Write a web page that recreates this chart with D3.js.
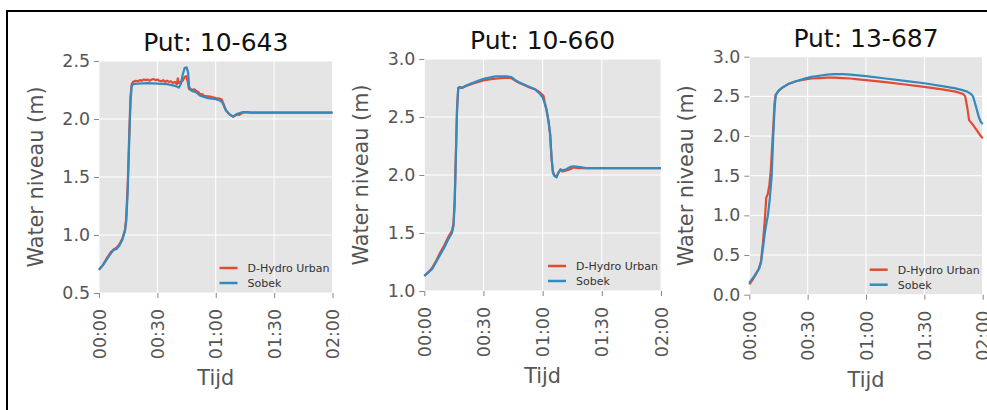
<!DOCTYPE html>
<html>
<head>
<meta charset="utf-8">
<script src="https://cdn.jsdelivr.net/npm/d3@7"></script>
<style>
  body { margin: 0; background: #fff; }
  svg { display: block; font-family: "DejaVu Sans", sans-serif; }
</style>
</head>
<body>
<svg id="chart" width="987" height="410"></svg>
<script>
// Tijd in minutes, water niveau in m
const titles = ["Put: 10-643", "Put: 10-660", "Put: 13-687"];
const seriesNames = ["D-Hydro Urban", "Sobek"];
const xTickValues = [0, 30, 60, 90, 120];
const xTickLabels = ["00:00", "00:30", "01:00", "01:30", "02:00"];
const yDomains = [[0.5, 2.5], [1.0, 3.0], [0.0, 3.0]];
const yTicks = [
  [0.5, 1.0, 1.5, 2.0, 2.5],
  [1.0, 1.5, 2.0, 2.5, 3.0],
  [0.0, 0.5, 1.0, 1.5, 2.0, 2.5, 3.0]
];

const hydro643 = [
  [0,0.70],[2,0.74],[4,0.80],[6,0.85],[7.5,0.875],[9,0.89],[10.5,0.92],[12,0.97],[13.3,1.04],[14,1.15],
  [14.8,1.45],[15.5,1.85],[16.2,2.20],[16.8,2.30],[17.5,2.32],[19,2.33],[20,2.325],[21,2.335],[22,2.33],
  [23,2.34],[24,2.335],[25,2.34],[26,2.33],[27,2.34],[28,2.345],[29,2.335],[30,2.34],[31,2.33],[32,2.325],
  [33,2.335],[34,2.32],[35,2.33],[36,2.32],[37,2.325],[38,2.31],[39,2.32],[40,2.30],[40.5,2.35],[41,2.31],
  [42,2.32],[43,2.33],[44,2.36],[44.8,2.37],[45.5,2.33],[46.2,2.26],[47,2.26],[48,2.25],[49,2.255],[50,2.24],
  [51,2.235],[52,2.21],[53,2.215],[54,2.20],[56,2.195],[58,2.19],[60,2.18],[62,2.175],[63,2.17],[64,2.13],
  [65,2.08],[66.5,2.05],[68,2.03],[69,2.02],[70,2.03],[71,2.04],[72,2.035],[73,2.045],[74,2.055],[76,2.06],
  [78,2.055],[120,2.055]
];
const sobek643 = [
  [0,0.70],[2,0.74],[4,0.79],[6,0.84],[7.5,0.87],[9,0.88],[10.5,0.91],[12,0.96],[13.3,1.03],[14,1.12],
  [14.8,1.40],[15.5,1.80],[16.2,2.15],[16.8,2.28],[17.5,2.30],[20,2.305],[25,2.31],[30,2.305],[35,2.30],
  [38,2.29],[40,2.28],[41,2.27],[42,2.30],[43,2.38],[44,2.44],[45,2.445],[45.8,2.40],[46.3,2.28],[47,2.25],
  [48,2.24],[50,2.23],[52,2.20],[54,2.19],[56,2.18],[58,2.175],[60,2.17],[62,2.16],[63.5,2.14],[64.5,2.10],
  [65.5,2.07],[67,2.04],[69,2.02],[70.5,2.04],[72,2.05],[74,2.06],[76,2.06],[78,2.055],[80,2.055],[120,2.055]
];

const hydro660 = [
  [0,1.13],[2,1.16],[4,1.20],[6,1.26],[8,1.33],[10,1.39],[12,1.46],[14,1.52],[14.8,1.58],[15.4,1.78],
  [16,2.18],[16.6,2.58],[17.2,2.75],[18,2.755],[19,2.75],[21,2.765],[24,2.785],[27,2.80],[30,2.815],
  [33,2.825],[36,2.83],[39,2.835],[42,2.84],[44,2.835],[46,2.815],[48,2.795],[50,2.78],[52,2.765],[54,2.75],
  [56,2.74],[58,2.72],[60,2.69],[60.5,2.68],[61,2.63],[62,2.56],[63,2.46],[63.8,2.35],[64.5,2.15],[65.2,2.03],
  [66,1.995],[67,1.985],[68,2.02],[69,2.045],[70,2.03],[71,2.035],[72,2.04],[74,2.05],[75,2.06],[76,2.065],
  [78,2.06],[80,2.06],[120,2.06]
];
const sobek660 = [
  [0,1.13],[2,1.16],[4,1.19],[6,1.25],[8,1.31],[10,1.37],[12,1.44],[14,1.50],[14.8,1.56],[15.4,1.75],
  [16,2.15],[16.6,2.55],[17.2,2.75],[18,2.76],[19,2.75],[21,2.77],[24,2.79],[27,2.81],[30,2.83],[33,2.84],
  [36,2.85],[39,2.85],[42,2.85],[44,2.845],[46,2.82],[48,2.80],[50,2.785],[52,2.77],[54,2.755],[56,2.74],
  [58,2.71],[60,2.67],[61,2.62],[62,2.56],[63,2.46],[63.8,2.35],[64.5,2.15],[65.2,2.02],[66,1.99],[67,1.98],
  [68,2.02],[69,2.05],[70,2.04],[71,2.045],[72,2.05],[74,2.07],[76,2.075],[78,2.07],[80,2.065],[82,2.06],
  [84,2.06],[120,2.06]
];

const hydro687 = [
  [0,0.13],[1.5,0.18],[3,0.24],[5,0.33],[6,0.42],[7,0.65],[8,0.95],[8.7,1.22],[9.5,1.27],[10.3,1.38],
  [11,1.55],[11.7,1.85],[12.4,2.15],[13,2.42],[13.6,2.52],[15,2.57],[17,2.61],[20,2.655],[24,2.69],[28,2.71],
  [32,2.725],[36,2.73],[40,2.735],[44,2.735],[48,2.73],[52,2.725],[56,2.715],[60,2.705],[70,2.68],[80,2.65],
  [90,2.62],[100,2.585],[106,2.56],[110,2.53],[111,2.50],[112,2.37],[113,2.20],[115,2.14],[117,2.07],
  [119,2.00],[120,1.97]
];
const sobek687 = [
  [0,0.15],[1.5,0.20],[3,0.25],[5,0.33],[6,0.40],[7,0.58],[8,0.78],[9,0.93],[9.5,0.99],[10.5,1.20],
  [11.5,1.49],[12.3,1.99],[13,2.35],[13.6,2.52],[15,2.57],[17,2.61],[20,2.655],[24,2.69],[28,2.72],
  [32,2.745],[36,2.76],[40,2.775],[44,2.78],[48,2.78],[52,2.775],[56,2.765],[60,2.755],[70,2.725],
  [80,2.695],[90,2.665],[100,2.625],[106,2.60],[110,2.575],[112,2.56],[114,2.53],[115,2.50],[116,2.42],
  [117,2.33],[118,2.24],[119,2.18],[120,2.15]
];

const seriesByPanel = [
  [hydro643, sobek643],
  [hydro660, sobek660],
  [hydro687, sobek687]
];

// the three plots were pasted side by side, so each has its own box
const boxes = [
  { left: 99, top: 61, width: 233.5, height: 232 },
  { left: 424.3, top: 59, width: 236.7, height: 232 },
  { left: 749.3, top: 56.7, width: 233.4, height: 238 }
];

const colors = ["#E24A33", "#348ABD"];
const svg = d3.select("#chart");

boxes.forEach((b, i) => {
  const g = svg.append("g").attr("transform", `translate(${b.left},${b.top})`);
  const x = d3.scaleLinear().domain([0, 120]).range([0, b.width]);
  const y = d3.scaleLinear().domain(yDomains[i]).range([b.height, 0]);

  g.append("rect")
    .attr("width", b.width)
    .attr("height", b.height)
    .attr("fill", "#E5E5E5");

  // white grid
  g.selectAll(".gx").data(xTickValues).join("line")
    .attr("x1", d => x(d)).attr("x2", d => x(d))
    .attr("y1", 0).attr("y2", b.height)
    .attr("stroke", "#fff").attr("stroke-width", 1);
  g.selectAll(".gy").data(yTicks[i]).join("line")
    .attr("y1", d => y(d)).attr("y2", d => y(d))
    .attr("x1", 0).attr("x2", b.width)
    .attr("stroke", "#fff").attr("stroke-width", 1);

  const line = d3.line().x(d => x(d[0])).y(d => y(d[1]));
  seriesByPanel[i].forEach((s, k) => {
    g.append("path")
      .datum(s)
      .attr("d", line)
      .attr("fill", "none")
      .attr("stroke", colors[k])
      .attr("stroke-width", 2.2)
      .attr("stroke-linejoin", "round");
  });

  // y axis
  const ya = g.append("g")
    .call(d3.axisLeft(y).tickValues(yTicks[i]).tickFormat(d3.format(".1f")).tickSize(5).tickPadding(4));
  ya.select(".domain").remove();
  ya.selectAll("line").attr("stroke", "#888");
  ya.selectAll("text")
    .attr("fill", "#555")
    .style("font-size", "17.4px")
    .style("font-family", "DejaVu Sans");

  // x axis, labels turned upright
  const xa = g.append("g")
    .attr("transform", `translate(0,${b.height})`)
    .call(d3.axisBottom(x).tickValues(xTickValues).tickFormat((d, j) => xTickLabels[j]).tickSize(5));
  xa.select(".domain").remove();
  xa.selectAll("line").attr("stroke", "#888");
  xa.selectAll("text")
    .attr("transform", "rotate(-90)")
    .attr("x", -16)
    .attr("y", 0)
    .attr("dy", "0.35em")
    .attr("text-anchor", "end")
    .attr("fill", "#555")
    .style("font-size", "17.4px")
    .style("font-family", "DejaVu Sans");

  g.append("text")
    .attr("x", b.width / 2)
    .attr("y", -10)
    .attr("text-anchor", "middle")
    .attr("fill", "#111")
    .style("font-size", "25px")
    .text(titles[i]);

  g.append("text")
    .attr("transform", `translate(-56,${b.height / 2}) rotate(-90)`)
    .attr("text-anchor", "middle")
    .attr("fill", "#555")
    .style("font-size", "20.8px")
    .text("Water niveau (m)");

  g.append("text")
    .attr("x", b.width / 2)
    .attr("y", b.height + 92)
    .attr("text-anchor", "middle")
    .attr("fill", "#555")
    .style("font-size", "20.8px")
    .text("Tijd");

  // legend, lower right
  const leg = g.selectAll(".leg").data(seriesNames).join("g")
    .attr("transform", (d, k) => `translate(${b.width - 113},${b.height - 25 + k * 15})`);
  leg.append("line")
    .attr("x1", 0).attr("x2", 18)
    .attr("stroke", (d, k) => colors[k])
    .attr("stroke-width", 2.5);
  leg.append("text")
    .attr("x", 28)
    .attr("dy", "0.35em")
    .attr("fill", "#333")
    .style("font-size", "11px")
    .text(d => d);
});

// frame round the figure
svg.append("line").attr("x1", 6).attr("x2", 987).attr("y1", 11).attr("y2", 11)
  .attr("stroke", "#000").attr("stroke-width", 2);
svg.append("line").attr("x1", 7).attr("x2", 7).attr("y1", 10).attr("y2", 410)
  .attr("stroke", "#000").attr("stroke-width", 2);
</script>
</body>
</html>
